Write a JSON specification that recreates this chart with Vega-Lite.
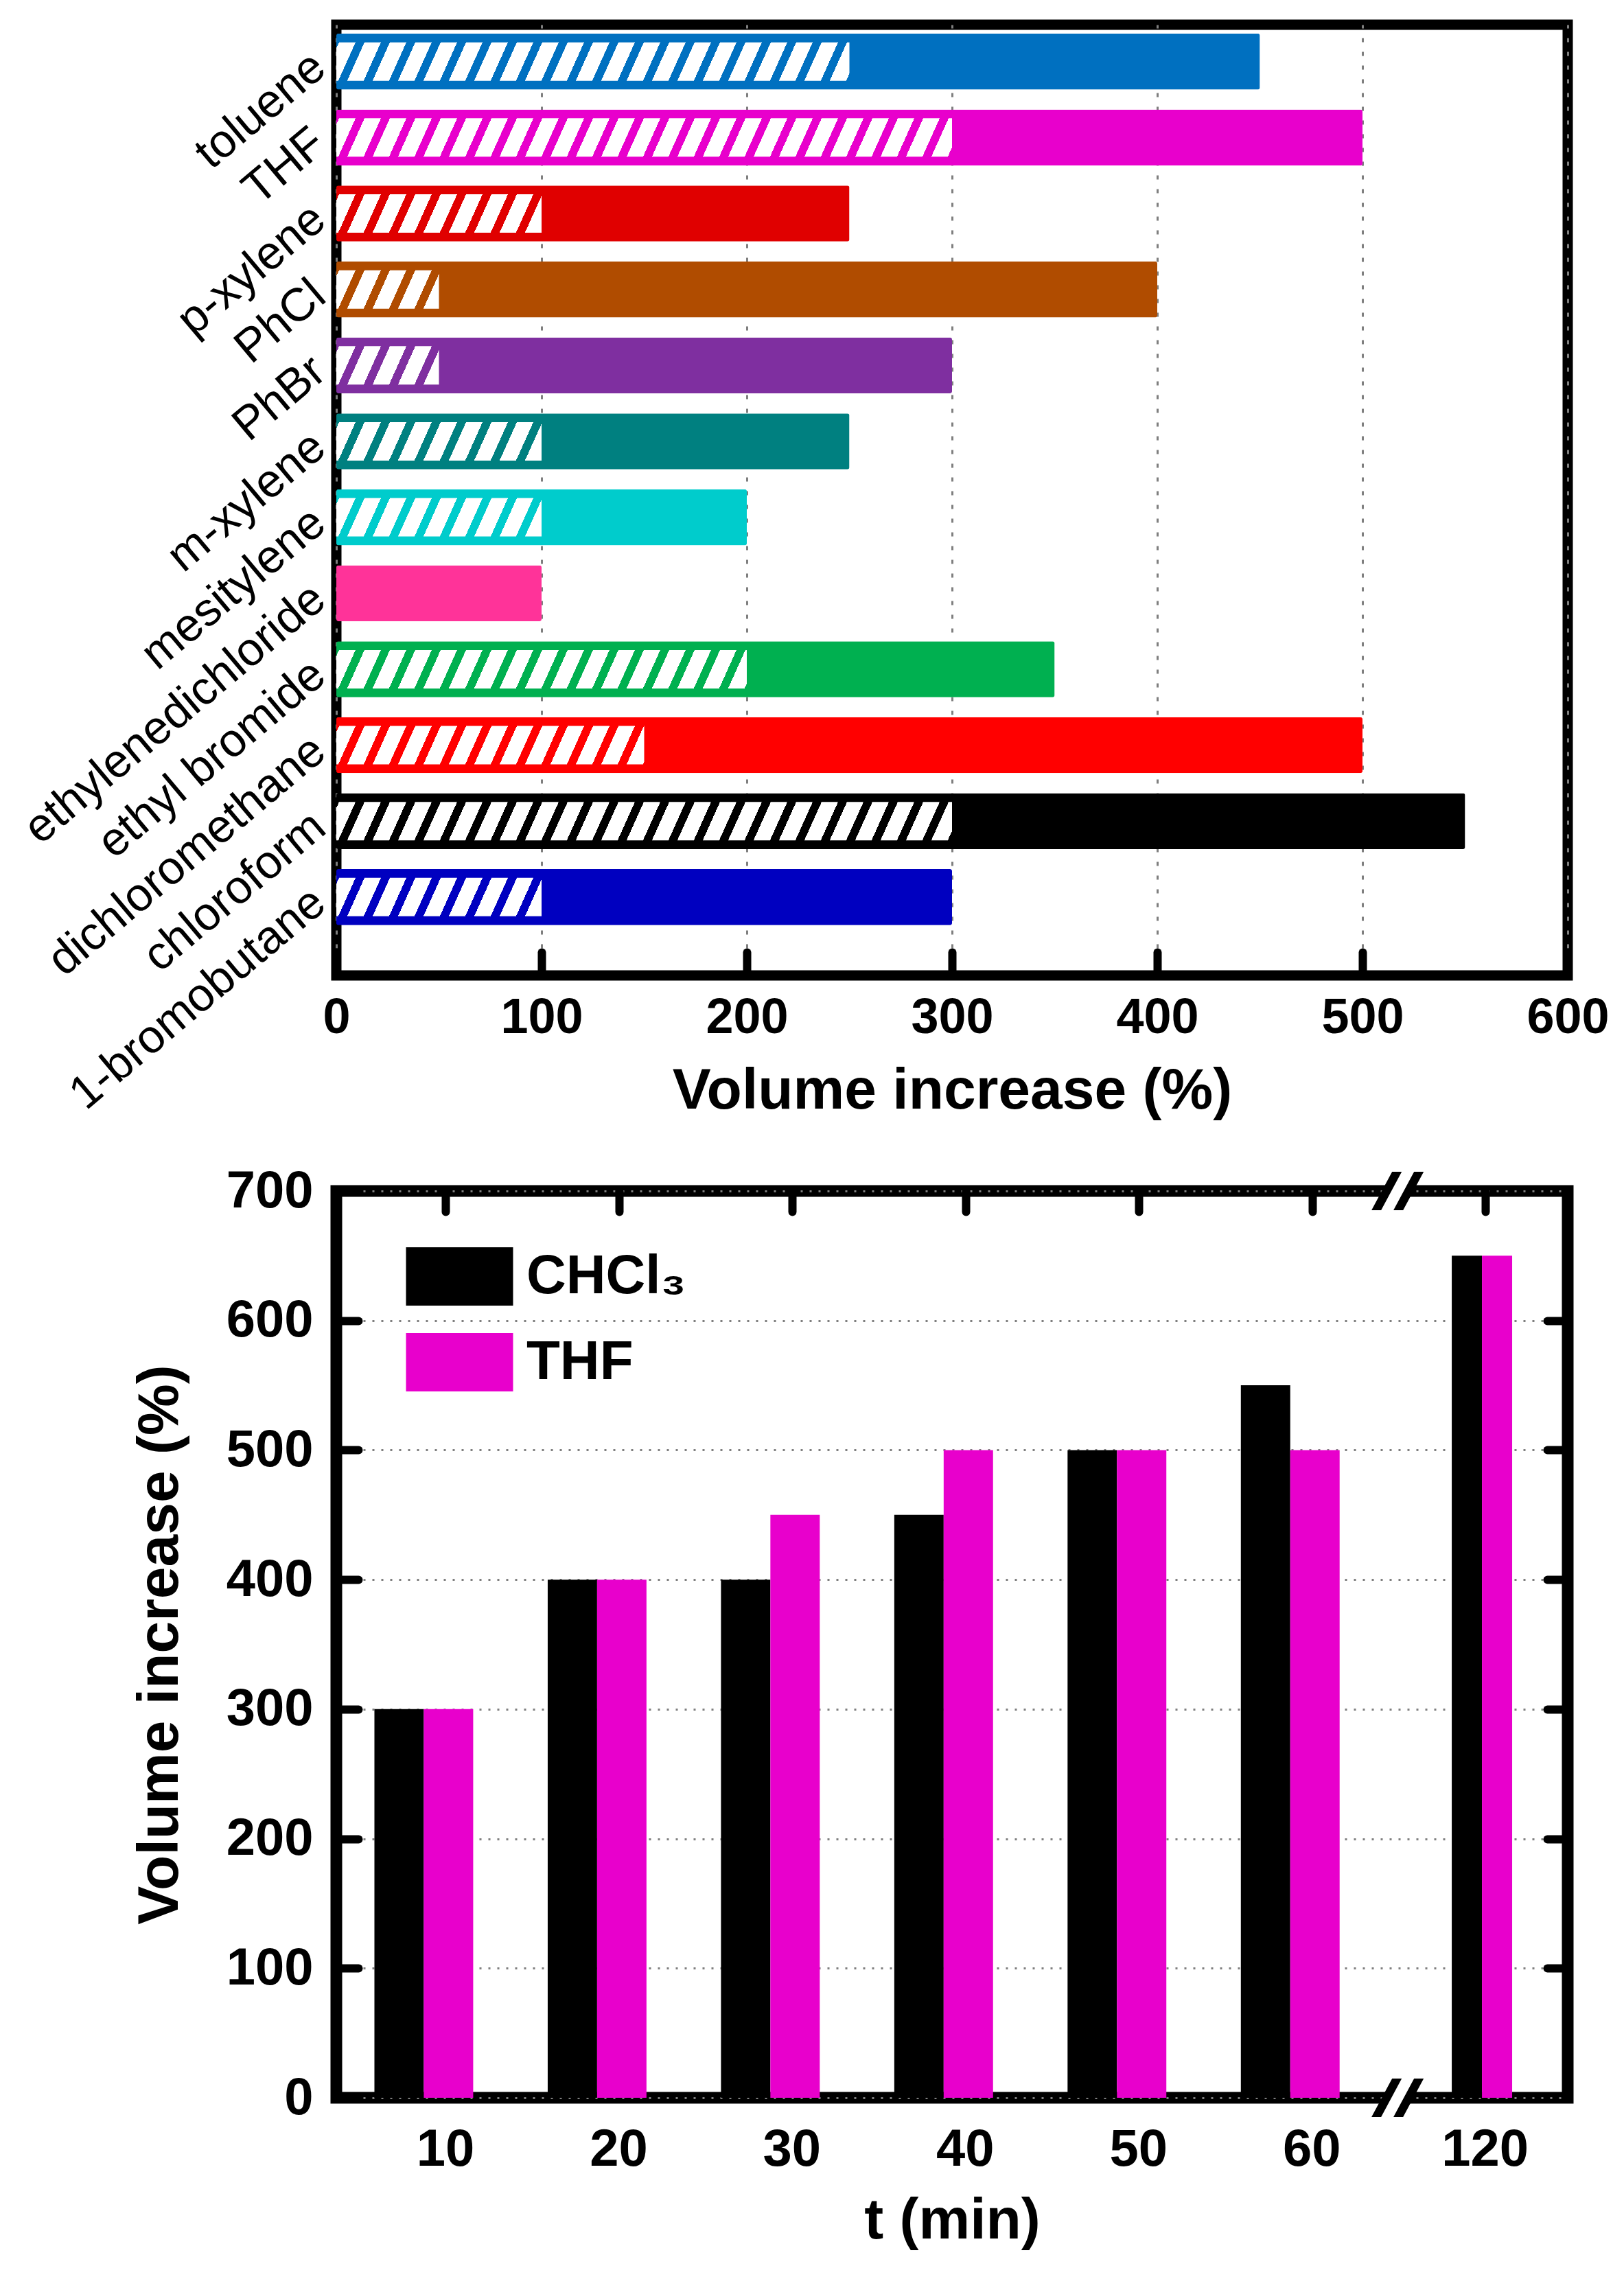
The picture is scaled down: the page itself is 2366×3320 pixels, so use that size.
{
  "$schema": "https://vega.github.io/schema/vega-lite/v6.json",
  "background": "white",
  "padding": {"left": 15, "top": 28, "right": 20, "bottom": 20},
  "params": [
    {
      "name": "stripes",
      "value": [
        {"offset": 0.004, "color": "rgba(255,255,255,0)"}, {"offset": 0.004, "color": "#ffffff"}, {"offset": 0.028, "color": "#ffffff"}, {"offset": 0.028, "color": "rgba(255,255,255,0)"},
        {"offset": 0.041, "color": "rgba(255,255,255,0)"}, {"offset": 0.041, "color": "#ffffff"}, {"offset": 0.065, "color": "#ffffff"}, {"offset": 0.065, "color": "rgba(255,255,255,0)"},
        {"offset": 0.078, "color": "rgba(255,255,255,0)"}, {"offset": 0.078, "color": "#ffffff"}, {"offset": 0.102, "color": "#ffffff"}, {"offset": 0.102, "color": "rgba(255,255,255,0)"},
        {"offset": 0.115, "color": "rgba(255,255,255,0)"}, {"offset": 0.115, "color": "#ffffff"}, {"offset": 0.139, "color": "#ffffff"}, {"offset": 0.139, "color": "rgba(255,255,255,0)"},
        {"offset": 0.152, "color": "rgba(255,255,255,0)"}, {"offset": 0.152, "color": "#ffffff"}, {"offset": 0.176, "color": "#ffffff"}, {"offset": 0.176, "color": "rgba(255,255,255,0)"},
        {"offset": 0.189, "color": "rgba(255,255,255,0)"}, {"offset": 0.189, "color": "#ffffff"}, {"offset": 0.213, "color": "#ffffff"}, {"offset": 0.213, "color": "rgba(255,255,255,0)"},
        {"offset": 0.226, "color": "rgba(255,255,255,0)"}, {"offset": 0.226, "color": "#ffffff"}, {"offset": 0.25, "color": "#ffffff"}, {"offset": 0.25, "color": "rgba(255,255,255,0)"},
        {"offset": 0.263, "color": "rgba(255,255,255,0)"}, {"offset": 0.263, "color": "#ffffff"}, {"offset": 0.287, "color": "#ffffff"}, {"offset": 0.287, "color": "rgba(255,255,255,0)"},
        {"offset": 0.3, "color": "rgba(255,255,255,0)"}, {"offset": 0.3, "color": "#ffffff"}, {"offset": 0.324, "color": "#ffffff"}, {"offset": 0.324, "color": "rgba(255,255,255,0)"},
        {"offset": 0.337, "color": "rgba(255,255,255,0)"}, {"offset": 0.337, "color": "#ffffff"}, {"offset": 0.361, "color": "#ffffff"}, {"offset": 0.361, "color": "rgba(255,255,255,0)"},
        {"offset": 0.374, "color": "rgba(255,255,255,0)"}, {"offset": 0.374, "color": "#ffffff"}, {"offset": 0.398, "color": "#ffffff"}, {"offset": 0.398, "color": "rgba(255,255,255,0)"},
        {"offset": 0.411, "color": "rgba(255,255,255,0)"}, {"offset": 0.411, "color": "#ffffff"}, {"offset": 0.435, "color": "#ffffff"}, {"offset": 0.435, "color": "rgba(255,255,255,0)"},
        {"offset": 0.448, "color": "rgba(255,255,255,0)"}, {"offset": 0.448, "color": "#ffffff"}, {"offset": 0.472, "color": "#ffffff"}, {"offset": 0.472, "color": "rgba(255,255,255,0)"},
        {"offset": 0.485, "color": "rgba(255,255,255,0)"}, {"offset": 0.485, "color": "#ffffff"}, {"offset": 0.509, "color": "#ffffff"}, {"offset": 0.509, "color": "rgba(255,255,255,0)"},
        {"offset": 0.522, "color": "rgba(255,255,255,0)"}, {"offset": 0.522, "color": "#ffffff"}, {"offset": 0.546, "color": "#ffffff"}, {"offset": 0.546, "color": "rgba(255,255,255,0)"},
        {"offset": 0.559, "color": "rgba(255,255,255,0)"}, {"offset": 0.559, "color": "#ffffff"}, {"offset": 0.583, "color": "#ffffff"}, {"offset": 0.583, "color": "rgba(255,255,255,0)"},
        {"offset": 0.596, "color": "rgba(255,255,255,0)"}, {"offset": 0.596, "color": "#ffffff"}, {"offset": 0.62, "color": "#ffffff"}, {"offset": 0.62, "color": "rgba(255,255,255,0)"},
        {"offset": 0.633, "color": "rgba(255,255,255,0)"}, {"offset": 0.633, "color": "#ffffff"}, {"offset": 0.657, "color": "#ffffff"}, {"offset": 0.657, "color": "rgba(255,255,255,0)"},
        {"offset": 0.67, "color": "rgba(255,255,255,0)"}, {"offset": 0.67, "color": "#ffffff"}, {"offset": 0.694, "color": "#ffffff"}, {"offset": 0.694, "color": "rgba(255,255,255,0)"},
        {"offset": 0.707, "color": "rgba(255,255,255,0)"}, {"offset": 0.707, "color": "#ffffff"}, {"offset": 0.731, "color": "#ffffff"}, {"offset": 0.731, "color": "rgba(255,255,255,0)"},
        {"offset": 0.744, "color": "rgba(255,255,255,0)"}, {"offset": 0.744, "color": "#ffffff"}, {"offset": 0.768, "color": "#ffffff"}, {"offset": 0.768, "color": "rgba(255,255,255,0)"},
        {"offset": 0.781, "color": "rgba(255,255,255,0)"}, {"offset": 0.781, "color": "#ffffff"}, {"offset": 0.805, "color": "#ffffff"}, {"offset": 0.805, "color": "rgba(255,255,255,0)"},
        {"offset": 0.818, "color": "rgba(255,255,255,0)"}, {"offset": 0.818, "color": "#ffffff"}, {"offset": 0.842, "color": "#ffffff"}, {"offset": 0.842, "color": "rgba(255,255,255,0)"},
        {"offset": 0.855, "color": "rgba(255,255,255,0)"}, {"offset": 0.855, "color": "#ffffff"}, {"offset": 0.879, "color": "#ffffff"}, {"offset": 0.879, "color": "rgba(255,255,255,0)"},
        {"offset": 0.892, "color": "rgba(255,255,255,0)"}, {"offset": 0.892, "color": "#ffffff"}, {"offset": 0.916, "color": "#ffffff"}, {"offset": 0.916, "color": "rgba(255,255,255,0)"},
        {"offset": 0.929, "color": "rgba(255,255,255,0)"}, {"offset": 0.929, "color": "#ffffff"}, {"offset": 0.953, "color": "#ffffff"}, {"offset": 0.953, "color": "rgba(255,255,255,0)"},
        {"offset": 0.966, "color": "rgba(255,255,255,0)"}, {"offset": 0.966, "color": "#ffffff"}, {"offset": 0.99, "color": "#ffffff"}, {"offset": 0.99, "color": "rgba(255,255,255,0)"}
      ]
    }
  ],
  "config": {
    "font": "Liberation Sans, Arial, DejaVu Sans, sans-serif",
    "axis": {
      "domain": false,
      "labelColor": "black",
      "titleColor": "black",
      "tickColor": "black",
      "labelLimit": 0,
      "labelFlush": false,
      "labelOverlap": false
    }
  },
  "resolve": {"scale": {"color": "independent"}, "legend": {"color": "independent"}},
  "bounds": "flush",
  "spacing": 314,
  "vconcat": [
    {
      "width": 1794,
      "height": 1385,
      "view": {"stroke": "black", "strokeWidth": 15},
      "data": {
        "values": [
          {"solvent": "toluene", "full": 450, "hatch": 250},
          {"solvent": "THF", "full": 500, "hatch": 300},
          {"solvent": "p-xylene", "full": 250, "hatch": 100},
          {"solvent": "PhCl", "full": 400, "hatch": 50},
          {"solvent": "PhBr", "full": 300, "hatch": 50},
          {"solvent": "m-xylene", "full": 250, "hatch": 100},
          {"solvent": "mesitylene", "full": 200, "hatch": 100},
          {"solvent": "ethylenedichloride", "full": 100, "hatch": null},
          {"solvent": "ethyl bromide", "full": 350, "hatch": 200},
          {"solvent": "dichloromethane", "full": 500, "hatch": 150},
          {"solvent": "chloroform", "full": 550, "hatch": 300},
          {"solvent": "1-bromobutane", "full": 300, "hatch": 100}
        ]
      },
      "encoding": {
        "y": {
          "field": "solvent",
          "type": "nominal",
          "sort": null,
          "scale": {"paddingInner": 0.263, "paddingOuter": 0.39, "align": 0.15},
          "axis": {
            "title": null,
            "ticks": false,
            "labelAngle": -40,
            "labelAlign": "right",
            "labelBaseline": "middle",
            "labelFontSize": 68,
            "labelPadding": 25
          }
        }
      },
      "layer": [
        {
          "mark": {"type": "bar", "cornerRadius": 3},
          "encoding": {
            "x": {
              "field": "full",
              "type": "quantitative",
              "scale": {"domain": [0, 600], "nice": false},
              "axis": {
                "title": "Volume increase (%)",
                "values": [0, 100, 200, 300, 400, 500, 600],
                "tickSize": -34,
                "tickWidth": 12,
                "tickCap": "round",
                "labelFontSize": 72,
                "labelFontWeight": "bold",
                "labelPadding": 60,
                "titleFontSize": 84,
                "titleFontWeight": "bold",
                "titlePadding": 30,
                "grid": true,
                "gridColor": "#7f7f7f",
                "gridDash": [6, 14],
                "gridWidth": 3
              }
            },
            "color": {
              "field": "solvent",
              "type": "nominal",
              "legend": null,
              "scale": {
                "domain": ["toluene", "THF", "p-xylene", "PhCl", "PhBr", "m-xylene", "mesitylene", "ethylenedichloride", "ethyl bromide", "dichloromethane", "chloroform", "1-bromobutane"],
                "range": ["#0070C0", "#E800CC", "#E00000", "#B04C00", "#7F2FA0", "#008080", "#00CCCC", "#FF3399", "#00B050", "#FF0000", "#000000", "#0000C0"]
              }
            }
          }
        },
        {
          "transform": [{"filter": "datum.hatch > 0"}],
          "mark": {
            "type": "bar",
            "height": 56,
            "fill": {"expr": "{gradient: 'linear', x1: 0, y1: 0, x2: 2990 * datum.hatch / (8.9401 * datum.hatch * datum.hatch + 635), y2: 25200 / (8.9401 * datum.hatch * datum.hatch + 635), stops: stripes}"}
          },
          "encoding": {
            "x": {"field": "hatch", "type": "quantitative"}
          }
        }
      ]
    },
    {
      "width": 1794,
      "height": 1321,
      "view": {"stroke": "black", "strokeWidth": 17},
      "data": {
        "values": [
          {"t": "10", "solvent": "CHCl₃", "v": 300},
          {"t": "10", "solvent": "THF", "v": 300},
          {"t": "20", "solvent": "CHCl₃", "v": 400},
          {"t": "20", "solvent": "THF", "v": 400},
          {"t": "30", "solvent": "CHCl₃", "v": 400},
          {"t": "30", "solvent": "THF", "v": 450},
          {"t": "40", "solvent": "CHCl₃", "v": 450},
          {"t": "40", "solvent": "THF", "v": 500},
          {"t": "50", "solvent": "CHCl₃", "v": 500},
          {"t": "50", "solvent": "THF", "v": 500},
          {"t": "60", "solvent": "CHCl₃", "v": 550},
          {"t": "60", "solvent": "THF", "v": 500},
          {"t": "120", "solvent": "CHCl₃", "v": 650},
          {"t": "120", "solvent": "THF", "v": 650}
        ]
      },
      "resolve": {
        "axis": {"x": "independent", "y": "independent"},
        "scale": {"xOffset": "independent"}
      },
      "layer": [
        {
          "transform": [{"filter": "datum.t !== '120'"}],
          "mark": {"type": "bar"},
          "encoding": {
            "x": {
              "field": "t",
              "type": "nominal",
              "scale": {"domain": ["10", "20", "30", "40", "50", "60", "120"], "paddingInner": 0.43, "paddingOuter": 0.268, "align": 0.41},
              "axis": {
                "orient": "bottom",
                "title": "t (min)",
                "ticks": false,
                "labelAngle": 0,
                "tickOffset": 31,
                "labelFontSize": 76,
                "labelFontWeight": "bold",
                "labelPadding": 38,
                "titleFontSize": 84,
                "titleFontWeight": "bold",
                "titlePadding": 25
              }
            },
            "xOffset": {"field": "solvent", "type": "nominal", "sort": ["CHCl₃", "THF"]},
            "y": {
              "field": "v",
              "type": "quantitative",
              "scale": {"domain": [0, 700], "nice": false},
              "axis": {
                "orient": "left",
                "title": "Volume increase (%)",
                "values": [0, 100, 200, 300, 400, 500, 600, 700],
                "tickSize": -32,
                "tickWidth": 12,
                "tickCap": "round",
                "labelFontSize": 76,
                "labelFontWeight": "bold",
                "labelPadding": 66,
                "titleFontSize": 84,
                "titleFontWeight": "bold",
                "titlePadding": 53,
                "grid": true,
                "gridColor": "#7f7f7f",
                "gridDash": [3, 10],
                "gridWidth": 3
              }
            },
            "color": {
              "field": "solvent",
              "type": "nominal",
              "sort": ["CHCl₃", "THF"],
              "scale": {"domain": ["CHCl₃", "THF"], "range": ["#000000", "#E800CC"]},
              "legend": {
                "orient": "none",
                "legendX": 137,
                "legendY": 82,
                "title": null,
                "symbolType": "M-1.835,-1L1.835,-1L1.835,1L-1.835,1Z",
                "symbolSize": 7225,
                "symbolStrokeWidth": 0,
                "symbolOpacity": 1,
                "labelFontSize": 80,
                "labelFontWeight": "bold",
                "labelColor": "black",
                "labelOffset": 55,
                "labelLimit": 0,
                "rowPadding": 40,
                "padding": 0
              }
            }
          }
        },
        {
          "transform": [{"filter": "datum.t === '120'"}],
          "mark": {"type": "bar"},
          "encoding": {
            "x": {"field": "t", "type": "nominal", "axis": null},
            "xOffset": {
              "field": "solvent",
              "type": "nominal",
              "sort": ["CHCl₃", "THF"],
              "scale": {"paddingOuter": 0.636, "align": 0.98}
            },
            "y": {"field": "v", "type": "quantitative", "axis": null},
            "color": {
              "condition": {"test": "datum.solvent === 'THF'", "value": "#E800CC"},
              "value": "#000000"
            }
          }
        },
        {
          "mark": {"type": "bar", "opacity": 0},
          "encoding": {
            "x": {
              "field": "t",
              "type": "nominal",
              "axis": {
                "orient": "top",
                "title": null,
                "labels": false,
                "tickOffset": 32,
                "tickSize": -30,
                "tickWidth": 12,
                "tickCap": "round",
                "grid": false
              }
            },
            "xOffset": {"field": "solvent", "type": "nominal", "sort": ["CHCl₃", "THF"]},
            "y": {
              "field": "v",
              "type": "quantitative",
              "axis": {
                "orient": "right",
                "title": null,
                "labels": false,
                "values": [100, 200, 300, 400, 500, 600],
                "tickSize": -30,
                "tickWidth": 12,
                "tickCap": "round",
                "grid": false
              }
            }
          }
        },
        {
          "data": {"values": [{"edge": 0}, {"edge": 700}]},
          "mark": {
            "type": "point",
            "shape": "M-0.535,0.25L-0.265,-0.25L0.535,-0.25L0.265,0.25Z",
            "filled": true,
            "fill": "white",
            "opacity": 1,
            "strokeWidth": 0,
            "size": 6400
          },
          "encoding": {
            "x": {"datum": "60", "bandPosition": 1.587, "axis": null},
            "y": {"field": "edge", "type": "quantitative", "axis": null}
          }
        },
        {
          "data": {"values": [{"edge": 0}, {"edge": 700}]},
          "mark": {
            "type": "point",
            "shape": "M-0.95,0.7L-0.6,0.7L0.15,-0.7L-0.2,-0.7ZM-0.15,0.7L0.2,0.7L0.95,-0.7L0.6,-0.7Z",
            "filled": true,
            "fill": "black",
            "opacity": 1,
            "strokeWidth": 0,
            "size": 6400
          },
          "encoding": {
            "x": {"datum": "60", "bandPosition": 1.587, "axis": null},
            "y": {"field": "edge", "type": "quantitative", "axis": null}
          }
        }
      ]
    }
  ]
}
